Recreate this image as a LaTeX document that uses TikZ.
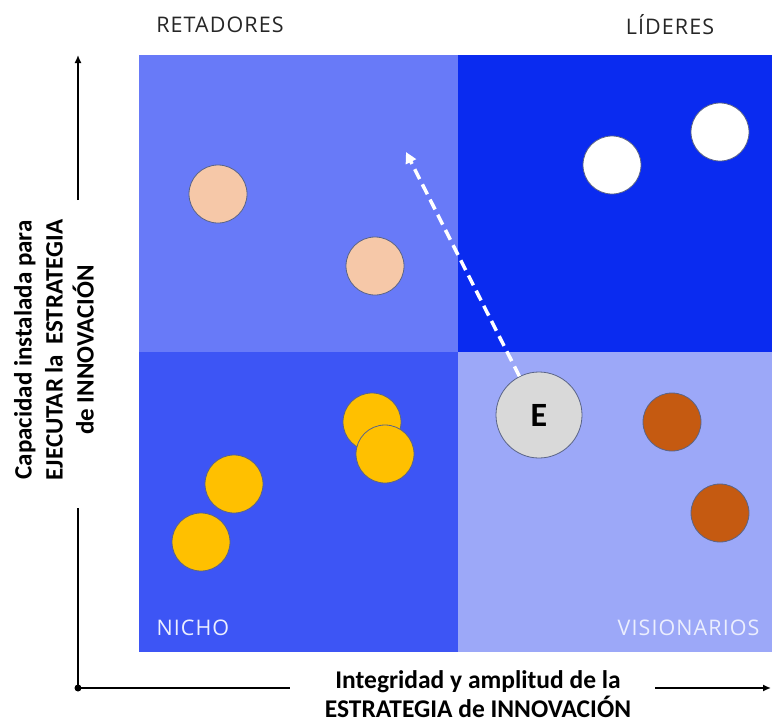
\documentclass[tikz,border=0pt]{standalone}
\usepackage{fontspec}
\setmainfont{Carlito}
\newfontfamily\quadfont[LetterSpace=5]{Open Sans}
\usetikzlibrary{arrows.meta}
\definecolor{retcol}{RGB}{104,122,248}
\definecolor{lidcol}{RGB}{10,43,240}
\definecolor{nichocol}{RGB}{61,85,245}
\definecolor{viscol}{RGB}{156,168,248}
\definecolor{peach}{RGB}{246,200,168}
\definecolor{ocre}{RGB}{255,192,0}
\definecolor{rust}{RGB}{197,90,17}
\definecolor{egray}{RGB}{217,217,217}
\definecolor{rim}{RGB}{90,100,135}
\tikzset{
	dot/.style 2 args={circle,inner sep=0pt,minimum size=58pt,draw=rim,line width=.8pt,fill=#1,name=#2},
	quadlbl/.style={font=\quadfont\fontsize{21.5}{24}\selectfont,text=black!85},
	axlbl/.style={font=\bfseries\fontsize{25.5}{29}\selectfont,align=center,inner sep=1pt}
}
\begin{document}
\begin{tikzpicture}[x=1pt,y=-1pt]
	\useasboundingbox (0,0) rectangle (772,724);
	\fill[retcol] (139,55) rectangle (458,352);
	\fill[lidcol] (458,55) rectangle (772,352);
	\fill[nichocol] (139,352) rectangle (458,652);
	\fill[viscol] (458,352) rectangle (772,652);

	\node [quadlbl] (ret) at (220,25) {RETADORES};
	\node [quadlbl] (lid) at (670,25) {LÍDERES};
	\node [quadlbl,text=white!80!viscol,anchor=west] (nicho) at (153,628) {NICHO};
	\node [quadlbl,text=white!80!viscol,anchor=east] (vis) at (763,628) {VISIONARIOS};

	\node [dot={peach}{r1}] at (218,194) {};
	\node [dot={peach}{r2}] at (375,266) {};
	\node [dot={white}{l1}] at (612,165) {};
	\node [dot={white}{l2}] at (720,132) {};
	\node [dot={ocre}{n1}] at (372,422) {};
	\node [dot={ocre}{n2}] at (385,454) {};
	\node [dot={ocre}{n3}] at (234,484) {};
	\node [dot={ocre}{n4}] at (201,542) {};
	\node [dot={rust}{v1}] at (672,422) {};
	\node [dot={rust}{v2}] at (720,513) {};
	\node [dot={egray}{e},minimum size=86pt,font=\bfseries\fontsize{34}{34}\selectfont] at (539,415) {E};

	\coordinate (goal) at (406,152);
	\draw [white,line width=3.5pt,dash pattern=on 11pt off 6pt,-{Triangle[length=11pt,width=11pt]}] (e) -- (goal);

	% ejes
	\node [axlbl] (xlab) at (478,694) {Integridad y amplitud de la\\ESTRATEGIA de INNOVACIÓN};
	\node [axlbl,rotate=90,font=\bfseries\fontsize{25}{31}\selectfont] (ylab) at (54,350) {Capacidad instalada para\\EJECUTAR la\, ESTRATEGIA\\de INNOVACIÓN};
	\coordinate (o) at (78,688);
	\coordinate (ya) at (78,508);
	\coordinate (yb) at (78,200);
	\coordinate (ytop) at (78,55);
	\coordinate (xa) at (290,688);
	\coordinate (xb) at (655,688);
	\coordinate (xend) at (771,688);
	\fill (o) circle (3.5pt);
	\draw [line width=1.5pt] (o) -- (ya);
	\draw [line width=1.5pt,-{Latex[length=8pt,width=7pt]}] (yb) -- (ytop);
	\draw [line width=1.5pt] (o) -- (xa);
	\draw [line width=1.5pt,-{Latex[length=8pt,width=7pt]}] (xb) -- (xend);
\end{tikzpicture}
\end{document}
